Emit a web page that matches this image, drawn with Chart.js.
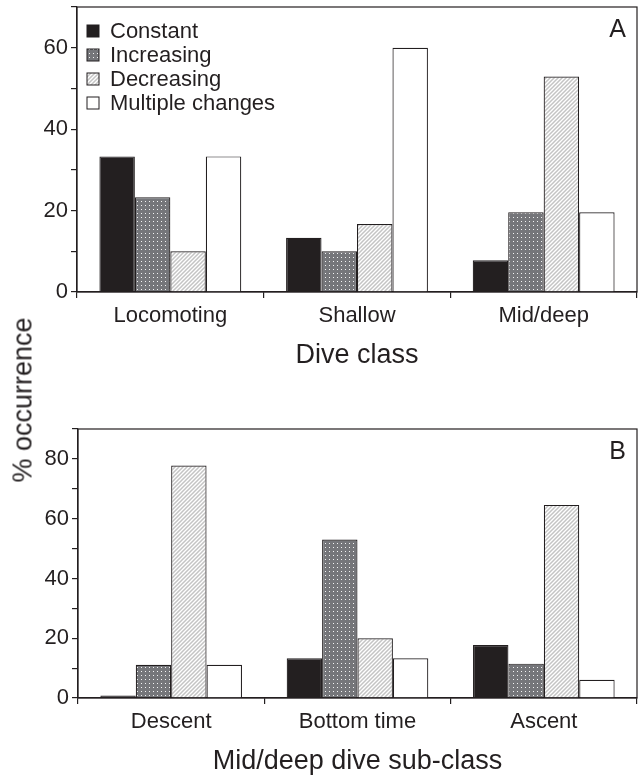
<!DOCTYPE html>
<html><head><meta charset="utf-8">
<script src="https://cdn.jsdelivr.net/npm/chart.js@4.4.1/dist/chart.umd.min.js"></script>
<style>
html,body{margin:0;padding:0;background:#fff;width:641px;height:778px;overflow:hidden;}
#wrapA{position:absolute;left:0;top:0;width:641px;height:390px;}
#wrapB{position:absolute;left:0;top:390px;width:641px;height:388px;}
#ytitle{position:absolute;left:23px;top:400px;transform:translate(-50%,-50%) rotate(-90deg);font:27px "Liberation Sans",Arial,sans-serif;line-height:1;color:#231f20;white-space:nowrap;}
</style></head>
<body>
<div id="wrapA"><canvas id="chartA"></canvas></div>
<div id="wrapB"><canvas id="chartB"></canvas></div>
<div id="ytitle">% occurrence</div>
<script>
// ---- data ----
const seriesNames = ['Constant', 'Increasing', 'Decreasing', 'Multiple changes'];
const diveClasses = ['Locomoting', 'Shallow', 'Mid/deep'];
const subClasses = ['Descent', 'Bottom time', 'Ascent'];
const constantA = [33.3, 13.3, 7.8];
const increasingA = [23.3, 10.0, 19.6];
const decreasingA = [10.0, 16.7, 52.9];
const multipleA = [33.3, 60.0, 19.6];
const constantB = [0.8, 13.3, 17.7];
const increasingB = [11.1, 53.0, 11.5];
const decreasingB = [77.8, 20.0, 64.6];
const multipleB = [11.1, 13.3, 6.1];
const yLabelledA = [0, 20, 40, 60];
const yLabelledB = [0, 20, 40, 60, 80];
const xTitleA = 'Dive class';
const xTitleB = 'Mid/deep dive sub-class';
const panelA = 'A';
const panelB = 'B';

// ---- styles ----
const INK = '#231f20';
const FAM = '"Liberation Sans", Arial, Helvetica, sans-serif';

function dotPattern() {
  const c = document.createElement('canvas'); c.width = 4; c.height = 4;
  const x = c.getContext('2d');
  x.fillStyle = '#75767a'; x.fillRect(0, 0, 4, 4);
  x.fillStyle = '#f4f4f4'; x.fillRect(1, 1, 1, 1);
  return x.createPattern(c, 'repeat');
}
function stripePattern() {
  const c = document.createElement('canvas'); c.width = 4; c.height = 4;
  const x = c.getContext('2d');
  x.fillStyle = '#ffffff'; x.fillRect(0, 0, 4, 4);
  x.strokeStyle = '#c4c4c4'; x.lineWidth = 1.5;
  x.beginPath();
  x.moveTo(-1, 5); x.lineTo(5, -1);
  x.moveTo(-1, 1); x.lineTo(1, -1);
  x.moveTo(3, 5); x.lineTo(5, 3);
  x.stroke();
  return x.createPattern(c, 'repeat');
}
const fills = [INK, dotPattern(), stripePattern(), '#ffffff'];

function makeDatasets(arrs) {
  return arrs.map((d, i) => ({
    label: seriesNames[i], data: d,
    backgroundColor: fills[i], borderColor: INK, borderWidth: 1.2,
    barPercentage: 1.0, categoryPercentage: 0.76
  }));
}

const boxPlugin = {
  id: 'box',
  afterDraw(chart, args, opts) {
    const { ctx, chartArea: a } = chart;
    ctx.save();
    ctx.strokeStyle = INK; ctx.lineWidth = 1.2;
    ctx.strokeRect(a.left, a.top, a.right - a.left, a.bottom - a.top);
    ctx.fillStyle = INK; ctx.font = '25px ' + FAM;
    ctx.textAlign = 'right'; ctx.textBaseline = 'alphabetic';
    ctx.fillText(opts.letter, a.right - 11, a.top + 30);
    if (opts.legend) {
      ctx.font = '22px ' + FAM; ctx.textAlign = 'left'; ctx.textBaseline = 'middle';
      chart.data.datasets.forEach((ds, i) => {
        const cy = a.top + 24 + i * 24;
        ctx.fillStyle = ds.backgroundColor;
        ctx.fillRect(a.left + 10, cy - 6, 12, 12);
        ctx.strokeStyle = INK; ctx.lineWidth = 1;
        ctx.strokeRect(a.left + 10, cy - 6, 12, 12);
        ctx.fillStyle = INK;
        ctx.fillText(ds.label, a.left + 33, cy + 1);
      });
    }
    ctx.restore();
  }
};

function makeOptions(ymax, labelled, xTitle, titlePad, yWidth, xHeight, padTop, letter, legend) {
  return {
    responsive: true, maintainAspectRatio: false, animation: false,
    layout: { padding: { top: padTop, right: 4, left: 0, bottom: 0 } },
    plugins: { legend: { display: false }, tooltip: { enabled: false }, box: { letter: letter, legend: legend } },
    scales: {
      x: {
        offset: true,
        grid: { offset: true, display: true, drawOnChartArea: false, drawTicks: true, tickLength: 6, color: INK, lineWidth: 1.2 },
        border: { display: true, color: INK, width: 1.2 },
        ticks: { color: INK, font: { size: 22, family: FAM }, padding: 5, maxRotation: 0 },
        title: { display: true, text: xTitle, color: INK, font: { size: 27, family: FAM }, padding: { top: 0, bottom: titlePad } },
        afterFit(s) { s.height = xHeight; s.paddingLeft = 0; s.paddingRight = 0; }
      },
      y: {
        min: 0, max: ymax,
        grid: { drawOnChartArea: false, drawTicks: true, tickLength: 6, color: INK, lineWidth: 1.2 },
        border: { display: true, color: INK, width: 1.2 },
        ticks: { stepSize: 10, color: INK, font: { size: 22, family: FAM }, padding: 3,
          callback: v => labelled.includes(v) ? String(v) : '' },
        afterFit(s) { s.width = yWidth; s.paddingTop = 0; s.paddingBottom = 0; }
      }
    }
  };
}

new Chart(document.getElementById('chartA'), {
  type: 'bar',
  data: { labels: diveClasses, datasets: makeDatasets([constantA, increasingA, decreasingA, multipleA]) },
  options: makeOptions(70, yLabelledA, xTitleA, 18, 77, 98, 7, panelA, true),
  plugins: [boxPlugin]
});
new Chart(document.getElementById('chartB'), {
  type: 'bar',
  data: { labels: subClasses, datasets: makeDatasets([constantB, increasingB, decreasingB, multipleB]) },
  options: makeOptions(90, yLabelledB, xTitleB, 0, 78, 80, 39, panelB, false),
  plugins: [boxPlugin]
});
</script>
</body></html>
